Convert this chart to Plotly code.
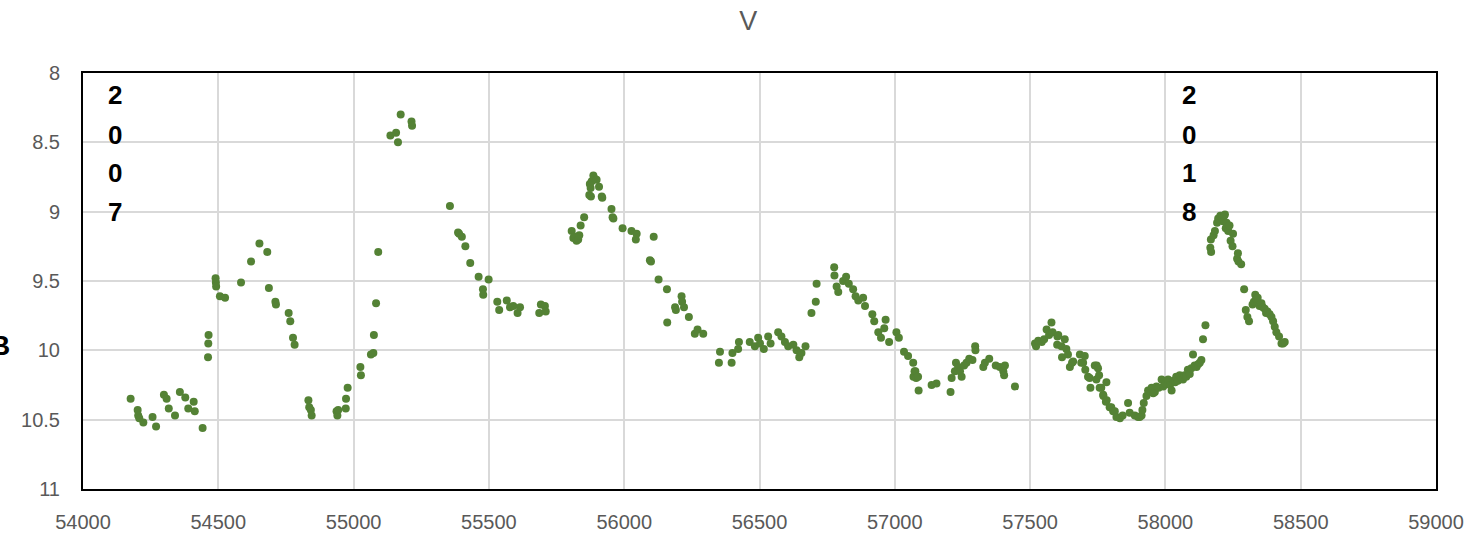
import plotly.graph_objects as go

# Observation dates (MJD) and V magnitudes
mjd = [
    54176, 54202, 54204, 54208, 54223, 54257, 54270, 54299, 54309, 54317,
    54340, 54358, 54378, 54389, 54409, 54413, 54442, 54462, 54463, 54464,
    54490, 54491, 54492, 54506, 54525, 54584, 54621, 54652, 54681, 54687,
    54711, 54713, 54760, 54766, 54776, 54782, 54833, 54836, 54842, 54845,
    54937, 54940, 54943, 54971, 54972, 54978, 55025, 55027, 55064, 55073,
    55075, 55083, 55091, 55136, 55157, 55164, 55174, 55214, 55216, 55356,
    55386, 55390, 55400, 55413, 55431, 55462, 55478, 55479, 55499, 55531,
    55538, 55566, 55578, 55590, 55606, 55615, 55686, 55692, 55707, 55710,
    55806, 55812, 55818, 55824, 55830, 55834, 55839, 55852, 55871, 55873,
    55876, 55877, 55880, 55886, 55890, 55898, 55907, 55917, 55919, 55953,
    55957, 55960, 55994, 56027, 56043, 56046, 56095, 56099, 56109, 56127,
    56158, 56159, 56188, 56191, 56212, 56214, 56221, 56239, 56261, 56271,
    56292, 56350, 56354, 56397, 56400, 56421, 56424, 56464, 56483, 56495,
    56502, 56516, 56532, 56541, 56569, 56581, 56594, 56606, 56625, 56637,
    56647, 56655, 56670, 56692, 56708, 56711, 56776, 56777, 56785, 56791,
    56809, 56820, 56830, 56846, 56855, 56865, 56883, 56890, 56917, 56924,
    56939, 56949, 56961, 56966, 56979, 57006, 57015, 57034, 57049, 57068,
    57069, 57073, 57076, 57079, 57086, 57088, 57136, 57154, 57206, 57210,
    57222, 57226, 57234, 57241, 57247, 57256, 57265, 57275, 57287, 57297,
    57298, 57327, 57333, 57349, 57373, 57388, 57401, 57404, 57407, 57444,
    57518, 57522, 57530, 57543, 57552, 57561, 57570, 57579, 57583, 57600,
    57601, 57604, 57616, 57618, 57628, 57634, 57640, 57647, 57655, 57659,
    57684, 57689, 57696, 57702, 57704, 57714, 57720, 57723, 57739, 57745,
    57746, 57751, 57755, 57757, 57763, 57770, 57771, 57780, 57782, 57783,
    57794, 57800, 57807, 57813, 57819, 57832, 57842, 57862, 57868, 57887,
    57899, 57905, 57912, 57915, 57920, 57930, 57936, 57949, 57955, 57961,
    57967, 57975, 57986, 57992, 58000, 58010, 58017, 58023, 58030, 58036,
    58040, 58046, 58053, 58060, 58065, 58071, 58077, 58083, 58090, 58096,
    58102, 58108, 58115, 58121, 58127, 58133, 58139, 58148, 58166, 58168,
    58169, 58178, 58183, 58191, 58195, 58199, 58203, 58207, 58210, 58213,
    58217, 58220, 58223, 58226, 58232, 58237, 58241, 58248, 58250, 58265,
    58268, 58270, 58280, 58291, 58297, 58303, 58309, 58322, 58327, 58332,
    58336, 58341, 58348, 58355, 58360, 58367, 58372, 58377, 58385, 58392,
    58398, 58404, 58410, 58420, 58429, 58435, 58441,
]

v_mag = [
    10.35, 10.43, 10.47, 10.49, 10.52, 10.48, 10.55, 10.32, 10.35, 10.42,
    10.47, 10.30, 10.34, 10.42, 10.37, 10.44, 10.56, 10.05, 9.95, 9.89,
    9.48, 9.51, 9.54, 9.61, 9.62, 9.51, 9.36, 9.23, 9.29, 9.55,
    9.65, 9.67, 9.73, 9.79, 9.91, 9.96, 10.36, 10.41, 10.43, 10.47,
    10.44, 10.47, 10.43, 10.42, 10.35, 10.27, 10.12, 10.18, 10.03, 10.02,
    9.89, 9.66, 9.29, 8.45, 8.43, 8.50, 8.30, 8.35, 8.38, 8.96,
    9.15, 9.16, 9.18, 9.25, 9.37, 9.47, 9.56, 9.60, 9.49, 9.65,
    9.71, 9.64, 9.69, 9.68, 9.73, 9.69, 9.73, 9.67, 9.68, 9.72,
    9.14, 9.19, 9.18, 9.21, 9.20, 9.17, 9.10, 9.04, 8.88, 8.80,
    8.83, 8.89, 8.78, 8.74, 8.76, 8.77, 8.82, 8.89, 8.90, 8.98,
    9.04, 9.05, 9.12, 9.14, 9.20, 9.16, 9.35, 9.36, 9.18, 9.49,
    9.56, 9.80, 9.69, 9.71, 9.61, 9.65, 9.69, 9.76, 9.88, 9.85,
    9.88, 10.09, 10.01, 10.09, 10.02, 9.99, 9.94, 9.94, 9.97, 9.91,
    9.95, 9.99, 9.90, 9.95, 9.87, 9.90, 9.94, 9.97, 9.96, 10.00,
    10.05, 10.02, 9.97, 9.73, 9.65, 9.52, 9.40, 9.46, 9.54, 9.58,
    9.50, 9.47, 9.52, 9.56, 9.61, 9.64, 9.62, 9.68, 9.74, 9.79,
    9.87, 9.91, 9.84, 9.78, 9.94, 9.87, 9.91, 10.01, 10.04, 10.09,
    10.19, 10.15, 10.15, 10.20, 10.19, 10.29, 10.25, 10.24, 10.30, 10.20,
    10.15, 10.09, 10.12, 10.15, 10.19, 10.11, 10.09, 10.06, 10.07, 9.97,
    10.00, 10.12, 10.09, 10.06, 10.11, 10.12, 10.15, 10.18, 10.11, 10.26,
    9.95, 9.97, 9.93, 9.94, 9.92, 9.85, 9.89, 9.80, 9.87, 9.96,
    9.90, 9.89, 9.97, 10.05, 9.92, 9.99, 10.03, 10.12, 10.09, 10.08,
    10.03, 10.09, 10.09, 10.04, 10.14, 10.19, 10.20, 10.27, 10.11, 10.21,
    10.11, 10.13, 10.18, 10.27, 10.27, 10.32, 10.33, 10.37, 10.23, 10.36,
    10.41, 10.41, 10.44, 10.44, 10.48, 10.49, 10.47, 10.38, 10.45, 10.47,
    10.48, 10.48, 10.47, 10.43, 10.38, 10.33, 10.29, 10.27, 10.31, 10.30,
    10.26, 10.27, 10.21, 10.26, 10.24, 10.21, 10.25, 10.29, 10.22, 10.23,
    10.19, 10.22, 10.18, 10.20, 10.21, 10.18, 10.19, 10.14, 10.17, 10.13,
    10.03, 10.11, 10.12, 10.10, 10.09, 10.07, 9.92, 9.82, 9.26, 9.20,
    9.29, 9.17, 9.14, 9.08, 9.05, 9.06, 9.03, 9.04, 9.05, 9.07,
    9.03, 9.02, 9.12, 9.08, 9.14, 9.10, 9.21, 9.25, 9.16, 9.34,
    9.30, 9.36, 9.38, 9.56, 9.71, 9.76, 9.79, 9.67, 9.65, 9.60,
    9.63, 9.62, 9.68, 9.66, 9.69, 9.70, 9.73, 9.72, 9.74, 9.76,
    9.79, 9.83, 9.87, 9.90, 9.95, 9.95, 9.94,
]

# Year markers written vertically, one character per line
year_labels = ["2007", "2018"]
year_mjd = [54120, 58088]
char_rows = [8.16, 8.45, 8.72, 9.0]

GREEN = "#548235"
GRID = "#d9d9d9"
TICK_GREY = "#595959"
FONT = "Liberation Sans"

fig = go.Figure(
    go.Scatter(
        x=mjd,
        y=v_mag,
        mode="markers",
        marker=dict(color=GREEN, size=8, line=dict(width=0)),
        showlegend=False,
    )
)

annotations = []
for label, xm in zip(year_labels, year_mjd):
    for ch, yr in zip(label, char_rows):
        annotations.append(
            dict(
                x=xm, y=yr, xref="x", yref="y", text="<b>" + ch + "</b>",
                showarrow=False, xanchor="center", yanchor="middle",
                font=dict(family=FONT, size=26, color="black"),
            )
        )

# Axis title, partly outside the left edge of the page
annotations.append(
    dict(
        x=-0.0613, y=0.346, xref="paper", yref="paper", text="<b>B</b>",
        showarrow=False, xanchor="center", yanchor="middle",
        font=dict(family=FONT, size=28, color="black"),
    )
)

fig.update_layout(
    width=1480,
    height=534,
    margin=dict(l=83, r=44, t=73, b=45),
    paper_bgcolor="white",
    plot_bgcolor="white",
    title=dict(
        text="V", x=0.5056, xanchor="center", y=0.962, yanchor="middle",
        font=dict(family=FONT, size=27, color=TICK_GREY),
    ),
    annotations=annotations,
    font=dict(family=FONT, size=20, color=TICK_GREY),
)

fig.update_xaxes(
    range=[54000, 59000],
    dtick=500,
    tickformat="d",
    automargin=False,
    showgrid=True,
    gridcolor=GRID,
    gridwidth=2,
    zeroline=False,
    showline=True,
    mirror=True,
    linecolor="black",
    linewidth=2,
    ticks="",
    ticklabelstandoff=14,
    tickfont=dict(family=FONT, size=20, color=TICK_GREY),
)
fig.update_yaxes(
    range=[11, 8],
    dtick=0.5,
    automargin=False,
    showgrid=True,
    gridcolor=GRID,
    gridwidth=2,
    zeroline=False,
    showline=True,
    mirror=True,
    linecolor="black",
    linewidth=2,
    ticks="",
    ticklabelstandoff=17,
    tickfont=dict(family=FONT, size=20, color=TICK_GREY),
)

fig.write_html("out.html")
